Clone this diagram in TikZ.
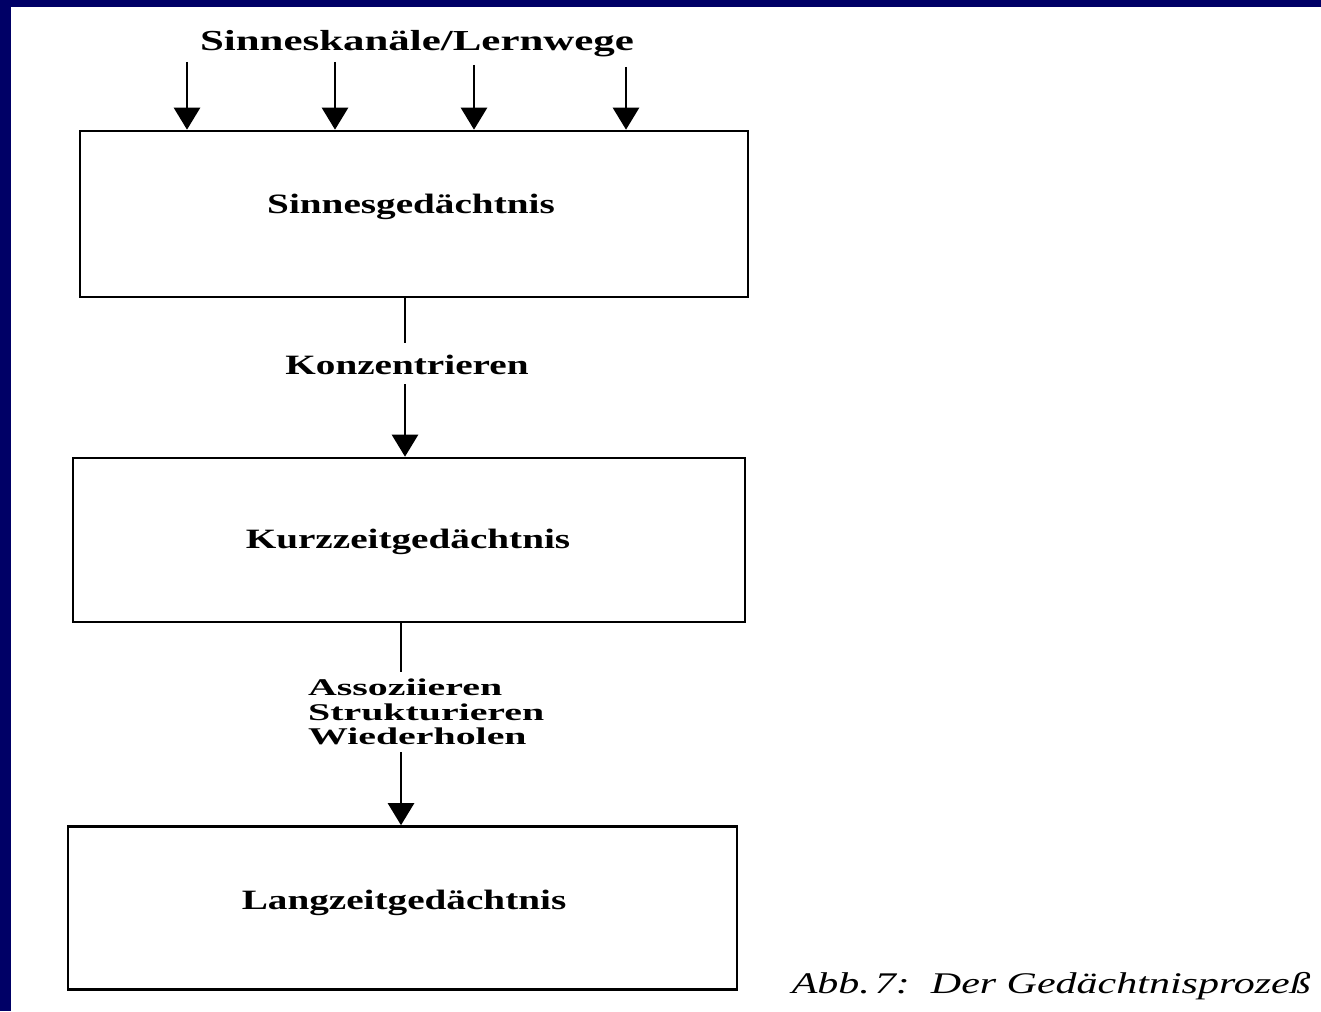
\documentclass[tikz,border=0pt]{standalone}
\usepackage{fontspec}
\setmainfont{Liberation Serif}
\newfontfamily\lab{Liberation Serif}[FakeStretch=1.4]
\newfontfamily\opf{Liberation Serif}[FakeStretch=1.66]
\newfontfamily\ttl{Liberation Serif}[FakeStretch=1.48]
\usetikzlibrary{arrows.meta}
\definecolor{frame}{RGB}{0,0,102}
\begin{document}
\begin{tikzpicture}[x=1pt,y=-1pt,
  box/.style={draw=black,line width=2.6pt,rectangle,inner sep=0pt},
  lbl/.style={inner sep=0pt,anchor=base,text=black,font=\lab\fontsize{28}{28}\selectfont\bfseries},
  opl/.style={inner sep=0pt,anchor=base west,text=black,font=\opf\fontsize{24}{24}\selectfont\bfseries},
  conn/.style={line width=2.6pt,draw=black},
  arr/.style={conn,-{Triangle[width=26pt,length=22pt]}}]
\useasboundingbox (0,0) rectangle (1321,1011);
\fill[white] (0,0) rectangle (1321,1011);
\fill[frame] (0,0) rectangle (1321,7);
\fill[frame] (0,0) rectangle (11,1011);
% boxes
\node[box,minimum width=668pt,minimum height=166pt] (b1) at (414,214) {};
\node[box,minimum width=672pt,minimum height=164pt] (b2) at (409,540) {};
\node[box,minimum width=669pt,minimum height=163pt] (b3) at (402.5,908) {};
% texts
\node[lbl,font=\ttl\fontsize{29}{29}\selectfont\bfseries] (title) at (417,51) {Sinneskanäle/Lernwege};
\node[lbl] (t1) at (411,213) {Sinnesgedächtnis};
\node[lbl] (k) at (407,374) {Konzentrieren};
\node[lbl] (t2) at (408,548) {Kurzzeitgedächtnis};
\node[opl] (op1) at (308,695) {Assoziieren};
\node[opl] (op2) at (308,720) {Strukturieren};
\node[opl] (op3) at (308,744.5) {Wiederholen};
\node[lbl] (t3) at (404,909) {Langzeitgedächtnis};
\node[inner sep=0pt,anchor=base east,font=\lab\fontsize{30}{30}\selectfont\itshape] (cap) at (1311,993) {Abb.\,7:\ \ Der Gedächtnisprozeß};
% top input arrows
\coordinate (i1) at (187,62);
\coordinate (i2) at (335,62);
\coordinate (i3) at (474,65);
\coordinate (i4) at (626,67);
\foreach \i in {1,...,4} \draw[arr] (i\i) -- (i\i |- b1.north);
% connector 1
\coordinate (c1a) at (405,343);
\coordinate (c1b) at (405,384);
\draw[conn] (c1a |- b1.south) -- (c1a);
\draw[arr] (c1b) -- (c1b |- b2.north);
% connector 2
\coordinate (c2a) at (401,672);
\coordinate (c2b) at (401,752);
\draw[conn] (c2a |- b2.south) -- (c2a);
\draw[arr] (c2b) -- (c2b |- b3.north);
\end{tikzpicture}
\end{document}
